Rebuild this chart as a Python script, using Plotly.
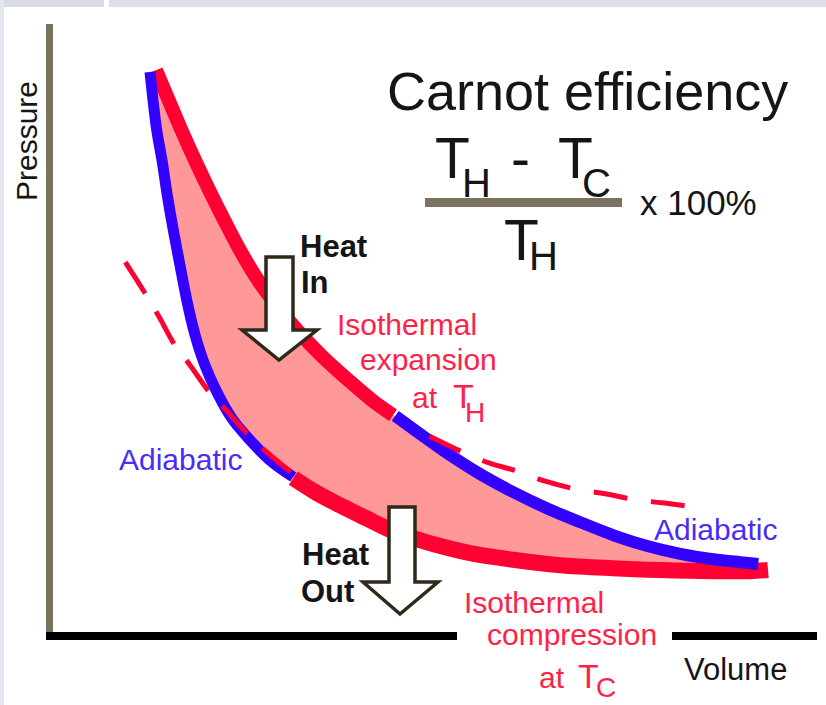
import plotly.graph_objects as go

# ---------------- data (P-V diagram, arbitrary units) ----------------
# Isothermal expansion at T_H  (A -> B)
iso_hot_V = [14.2, 15.9, 17.6, 19.4, 21.3, 23.3, 25.4, 27.8, 30.2, 33.0, 36.2, 39.8, 43.0, 45.8]
iso_hot_P = [94.3, 89.3, 84.3, 79.3, 74.3, 69.3, 64.3, 59.3, 55.2, 51.0, 46.8, 42.7, 39.3, 36.8]
# Adiabatic expansion (B -> C)
adia_exp_V = [46.1, 49.4, 53.0, 57.4, 61.8, 66.3, 70.7, 75.4, 79.7, 84.1, 88.5, 92.1, 94.5]
adia_exp_P = [36.7, 33.7, 30.5, 27.0, 24.0, 21.3, 19.0, 16.7, 15.0, 13.7, 12.8, 12.3, 12.0]
# Isothermal compression at T_C (D ... C, by increasing volume)
iso_cold_V = [32.5, 35.4, 38.7, 42.1, 45.4, 48.5, 52.1, 56.1, 61.8, 68.1, 75.1, 81.4, 88.5, 93.4, 95.8]
iso_cold_P = [26.3, 24.0, 21.8, 19.7, 17.7, 16.3, 15.0, 13.8, 12.7, 11.8, 11.3, 11.0, 10.8, 10.8, 11.0]
# Adiabatic compression (A ... D)
adia_comp_V = [13.4, 13.8, 14.3, 15.0, 15.7, 16.5, 17.4, 18.3, 19.4, 20.7, 22.3, 24.3, 26.7, 29.4, 32.5]
adia_comp_P = [94.0, 89.3, 84.3, 79.3, 73.5, 67.7, 61.8, 56.0, 50.2, 45.2, 40.7, 36.3, 32.7, 29.3, 26.5]
# Dashed extensions of the isotherms
ext_cold_V = [10.1, 12.7, 14.7, 16.7, 18.7, 21.4, 23.8, 26.3, 29.1, 32.3]
ext_cold_P = [62.3, 57.2, 53.0, 48.5, 45.2, 40.5, 37.3, 33.8, 30.5, 27.2]
ext_hot_V = [50.7, 55.0, 58.7, 62.3, 66.1, 70.1, 74.1, 78.1, 81.7, 85.8]
ext_hot_P = [33.3, 30.7, 28.8, 27.5, 25.8, 24.5, 23.7, 22.7, 22.2, 21.5]

# ---------------- styles ----------------
W, H = 826, 705
RED = "#ff0033"
BLUE = "#3300ff"
PINK = "#ff9999"
AXIS_BROWN = "#7b7360"
TXT = "#151515"
RED_TXT = "#ff2248"
BLUE_TXT = "#4a2cf5"
FONT = "Liberation Sans, Arial, sans-serif"


def px(x):
    return x / W


def py(y):
    return 1 - y / H


fig = go.Figure()

# filled cycle area
fill_V = iso_hot_V + adia_exp_V + iso_cold_V[::-1] + adia_comp_V[::-1]
fill_P = iso_hot_P + adia_exp_P + iso_cold_P[::-1] + adia_comp_P[::-1]
fig.add_trace(go.Scatter(x=fill_V, y=fill_P, mode="lines", fill="toself",
                         fillcolor=PINK, line=dict(width=0), hoverinfo="skip"))

# cycle strokes
fig.add_trace(go.Scatter(x=iso_hot_V, y=iso_hot_P, mode="lines",
                         line=dict(color=RED, width=14, shape="spline")))
fig.add_trace(go.Scatter(x=iso_cold_V, y=iso_cold_P, mode="lines",
                         line=dict(color=RED, width=16, shape="spline")))
fig.add_trace(go.Scatter(x=adia_exp_V, y=adia_exp_P, mode="lines",
                         line=dict(color=BLUE, width=12, shape="spline")))
fig.add_trace(go.Scatter(x=adia_comp_V, y=adia_comp_P, mode="lines",
                         line=dict(color=BLUE, width=11, shape="spline")))
# dashed isotherm extensions
fig.add_trace(go.Scatter(x=ext_cold_V, y=ext_cold_P, mode="lines",
                         line=dict(color=RED, width=5, shape="spline", dash="37px,21px")))
fig.add_trace(go.Scatter(x=ext_hot_V, y=ext_hot_P, mode="lines",
                         line=dict(color=RED, width=5, shape="spline", dash="34px,24px")))

shapes = []
# frame strips (top / left)
shapes.append(dict(type="rect", xref="paper", yref="paper", x0=px(0), x1=px(104), y0=py(0), y1=py(7),
                   fillcolor="#d8dbe6", line=dict(width=0), layer="below"))
shapes.append(dict(type="rect", xref="paper", yref="paper", x0=px(109), x1=px(826), y0=py(0), y1=py(7),
                   fillcolor="#dcdfe9", line=dict(width=0), layer="below"))
shapes.append(dict(type="rect", xref="paper", yref="paper", x0=px(0), x1=px(4), y0=py(0), y1=py(705),
                   fillcolor="#e4e7ef", line=dict(width=0), layer="below"))
# axes
shapes.append(dict(type="rect", xref="paper", yref="paper", x0=px(46), x1=px(53), y0=py(24), y1=py(640),
                   fillcolor=AXIS_BROWN, line=dict(width=0)))
shapes.append(dict(type="rect", xref="paper", yref="paper", x0=px(46), x1=px(457), y0=py(632), y1=py(640),
                   fillcolor="black", line=dict(width=0)))
shapes.append(dict(type="rect", xref="paper", yref="paper", x0=px(672), x1=px(817), y0=py(632), y1=py(640),
                   fillcolor="black", line=dict(width=0)))
# fraction bar
shapes.append(dict(type="rect", xref="paper", yref="paper", x0=px(425), x1=px(622), y0=py(198), y1=py(207),
                   fillcolor=AXIS_BROWN, line=dict(width=0)))


def arrow(xl, xr, top, base, hl, hr, tipx, tipy):
    pts = [(xl, top), (xr, top), (xr, base), (hr, base), (tipx, tipy), (hl, base), (xl, base)]
    d = "M " + " L ".join(f"{px(a):.5f},{py(b):.5f}" for a, b in pts) + " Z"
    return dict(type="path", xref="paper", yref="paper", path=d, fillcolor="white",
                line=dict(color="#2e2919", width=3.5))


shapes.append(arrow(266, 293, 257, 330, 242, 317, 279, 360))
shapes.append(arrow(389, 415, 507, 582, 363, 438, 400, 614))

ann = []


def label(text, x, y, size, color=TXT, angle=0):
    ann.append(dict(text=text, x=px(x), y=py(y), xref="paper", yref="paper",
                    xanchor="center", yanchor="middle", showarrow=False, textangle=angle,
                    font=dict(family=FONT, size=size, color=color)))


# title & formula
label("Carnot efficiency", 587.5, 91.3, 54)
label("T", 452.5, 158.2, 57)
label("H", 476, 183.1, 40)
label("-", 520.5, 158.2, 57)
label("T", 575, 158.2, 57)
label("C", 596.5, 183.1, 40)
label("x 100%", 698.5, 202.9, 35)
label("T", 521, 240.2, 57)
label("H", 543.5, 256.1, 40)

# heat arrows
label("<b>Heat</b>", 333.5, 246.3, 31)
label("<b>In</b>", 314.5, 282.3, 31)
label("<b>Heat</b>", 335.5, 554.3, 31)
label("<b>Out</b>", 327.5, 591.3, 31)

# isotherm labels
label("Isothermal", 407, 324.6, 30, RED_TXT)
label("expansion", 428.5, 359.6, 30, RED_TXT)
label("at", 425, 397.6, 30, RED_TXT)
label("T", 463.5, 396.2, 34, RED_TXT)
label("H", 475, 412.3, 28, RED_TXT)

label("Isothermal", 533.5, 602.6, 30, RED_TXT)
label("compression", 571.5, 634.6, 30, RED_TXT)
label("at", 551.5, 677.6, 30, RED_TXT)
label("T", 588.5, 676.2, 34, RED_TXT)
label("C", 606, 687.3, 28, RED_TXT)

# adiabatic labels
label("Adiabatic", 180.5, 459.6, 30, BLUE_TXT)
label("Adiabatic", 715.5, 529.6, 30, BLUE_TXT)

# axis titles
label("Volume", 735, 669.6, 31)
label("Pressure", 27, 141, 30, angle=-90)

fig.update_layout(
    width=W, height=H,
    margin=dict(l=0, r=0, t=0, b=0),
    paper_bgcolor="white", plot_bgcolor="white",
    showlegend=False,
    xaxis=dict(range=[-6.6, 103.533], visible=False, fixedrange=True),
    yaxis=dict(range=[-11.5, 106.0], visible=False, fixedrange=True),
    shapes=shapes,
    annotations=ann,
)

fig.write_html("out.html",
               config={"displayModeBar": False},
               post_script="document.body.style.margin='0';document.body.style.padding='0';")
